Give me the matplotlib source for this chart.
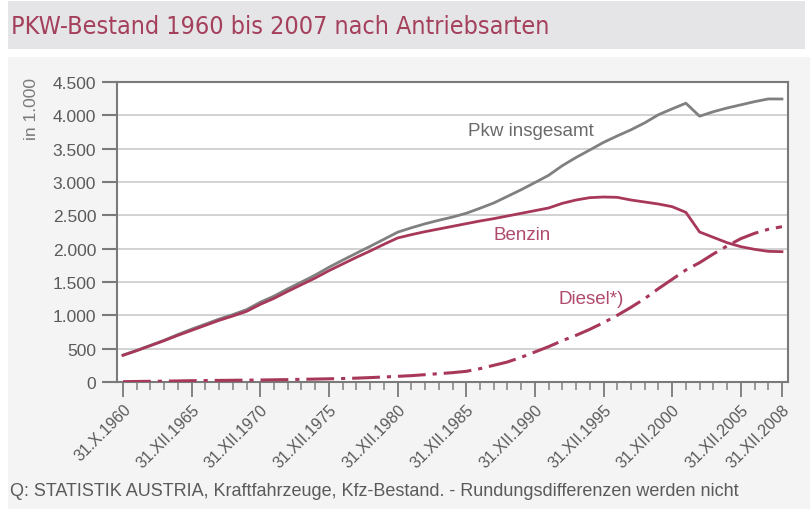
import matplotlib
matplotlib.use("Agg")
import matplotlib.pyplot as plt
from matplotlib.patches import Rectangle
from matplotlib import font_manager

# Pkw-Bestand in 1.000
years = list(range(1960, 2009))
total = [404, 475, 550, 627, 713, 793, 868, 944, 1011, 1086,
         1197, 1288, 1398, 1500, 1604, 1721, 1828, 1932, 2035, 2140,
         2247, 2313, 2373, 2426, 2474, 2531, 2606, 2685, 2784, 2884,
         2991, 3100, 3245, 3368, 3480, 3594, 3691, 3783, 3887, 4009,
         4097, 4182, 3987, 4054, 4110, 4157, 4205, 4246, 4245]
benzin = [400, 470, 545, 620, 700, 775, 850, 925, 990, 1060,
          1165, 1255, 1360, 1460, 1560, 1670, 1770, 1870, 1965, 2065,
          2160, 2210, 2255, 2295, 2335, 2375, 2415, 2450, 2490, 2530,
          2570, 2610, 2680, 2730, 2765, 2775, 2770, 2730, 2700, 2670,
          2630, 2545, 2250, 2170, 2090, 2030, 1990, 1960, 1955]
diesel = [5, 8, 10, 13, 16, 20, 22, 24, 26, 28,
          30, 33, 36, 40, 44, 48, 52, 58, 66, 75,
          85, 95, 110, 125, 140, 160, 200, 250, 300, 370,
          450, 530, 620, 700, 790, 890, 1000, 1120, 1250, 1400,
          1540, 1680, 1790, 1920, 2040, 2150, 2230, 2290, 2330]

tick_years = [1960, 1965, 1970, 1975, 1980, 1985, 1990, 1995, 2000, 2005, 2008]
tick_labels = ["31.X.1960", "31.XII.1965", "31.XII.1970", "31.XII.1975",
               "31.XII.1980", "31.XII.1985", "31.XII.1990", "31.XII.1995",
               "31.XII.2000", "31.XII.2005", "31.XII.2008"]
y_ticks = list(range(0, 4501, 500))
y_labels = ["0", "500", "1.000", "1.500", "2.000", "2.500", "3.000",
            "3.500", "4.000", "4.500"]

RED = "#a8385a"
RED_TXT = "#b04a6c"
GRAY_LINE = "#808080"
TXT = "#5a5a5a"

installed = {f.name for f in font_manager.fontManager.ttflist}
if "Liberation Sans Narrow" in installed:
    title_kw = dict(family="Liberation Sans Narrow", fontsize=21)
else:
    title_kw = dict(family="DejaVu Sans", fontstretch="condensed", fontsize=18)
plt.rcParams["font.family"] = ["Liberation Sans", "DejaVu Sans"]
plt.rcParams["lines.scale_dashes"] = False

fig = plt.figure(figsize=(8.1, 5.1), dpi=100, facecolor="white")

# background panels
fig.patches.append(Rectangle((8 / 810, 1 - 50 / 510), 797 / 810, 48 / 510,
                             transform=fig.transFigure, facecolor="#e5e5e7",
                             edgecolor="none", zorder=-5))
fig.patches.append(Rectangle((8 / 810, 0), 802 / 810, 1 - 58 / 510,
                             transform=fig.transFigure, facecolor="#f4f4f5",
                             edgecolor="none", zorder=-5))

fig.text(11 / 810, 1 - 27 / 510, "PKW-Bestand 1960 bis 2007 nach Antriebsarten",
         color="#a4405c", va="center", ha="left", **title_kw)

ax = fig.add_axes([117 / 810, 1 - 383 / 510, 671 / 810, 300 / 510])
ax.set_facecolor("white")

ax.plot(years, total, color=GRAY_LINE, lw=2.0, zorder=3)
ax.plot(years, benzin, color=RED, lw=2.0, zorder=3)
ax.plot(years, diesel, color=RED, lw=2.2, dashes=(20, 5, 3, 5), zorder=3)

ax.set_xlim(1959.56, 2008.44)
ax.set_ylim(0, 4500)
ax.set_yticks(y_ticks)
ax.set_yticklabels(y_labels)
ax.set_xticks(tick_years)
ax.set_xticks([y for y in years if y not in tick_years], minor=True)
ax.set_xticklabels(tick_labels, rotation=45, ha="right", va="top",
                   rotation_mode="anchor")

ax.grid(axis="y", color="#cfcfcf", lw=1.3, zorder=1)
ax.set_axisbelow(True)
for s in ax.spines.values():
    s.set_color("#7a7a7a")
    s.set_linewidth(1.5)

ax.tick_params(axis="y", length=11, width=1.5, color="#7a7a7a",
               labelsize=12.5, labelcolor=TXT, pad=4)
ax.tick_params(axis="x", which="major", length=11, width=1.3, color="#7a7a7a",
               labelsize=11.5, labelcolor=TXT, pad=3)
ax.tick_params(axis="x", which="minor", length=6, width=1.2, color="#8a8a8a")

ax.text(1989.7, 3780, "Pkw insgesamt", color="#6a6a6a", fontsize=13.5,
        ha="center", va="center")
ax.text(1989.05, 2205, "Benzin", color=RED_TXT, fontsize=13.5,
        ha="center", va="center")
ax.text(1994.1, 1260, "Diesel*)", color=RED_TXT, fontsize=13.5,
        ha="center", va="center")

fig.text(32 / 810, 1 - 109 / 510, "in 1.000", rotation=90, color="#7a7a7a",
         fontsize=12.5, ha="center", va="center")

fig.text(10 / 810, 1 - 492 / 510,
         "Q: STATISTIK AUSTRIA, Kraftfahrzeuge, Kfz-Bestand. - Rundungsdifferenzen werden nicht",
         color=TXT, fontsize=13, ha="left", va="center")

fig.savefig("out.png", dpi=100, facecolor=fig.get_facecolor())
